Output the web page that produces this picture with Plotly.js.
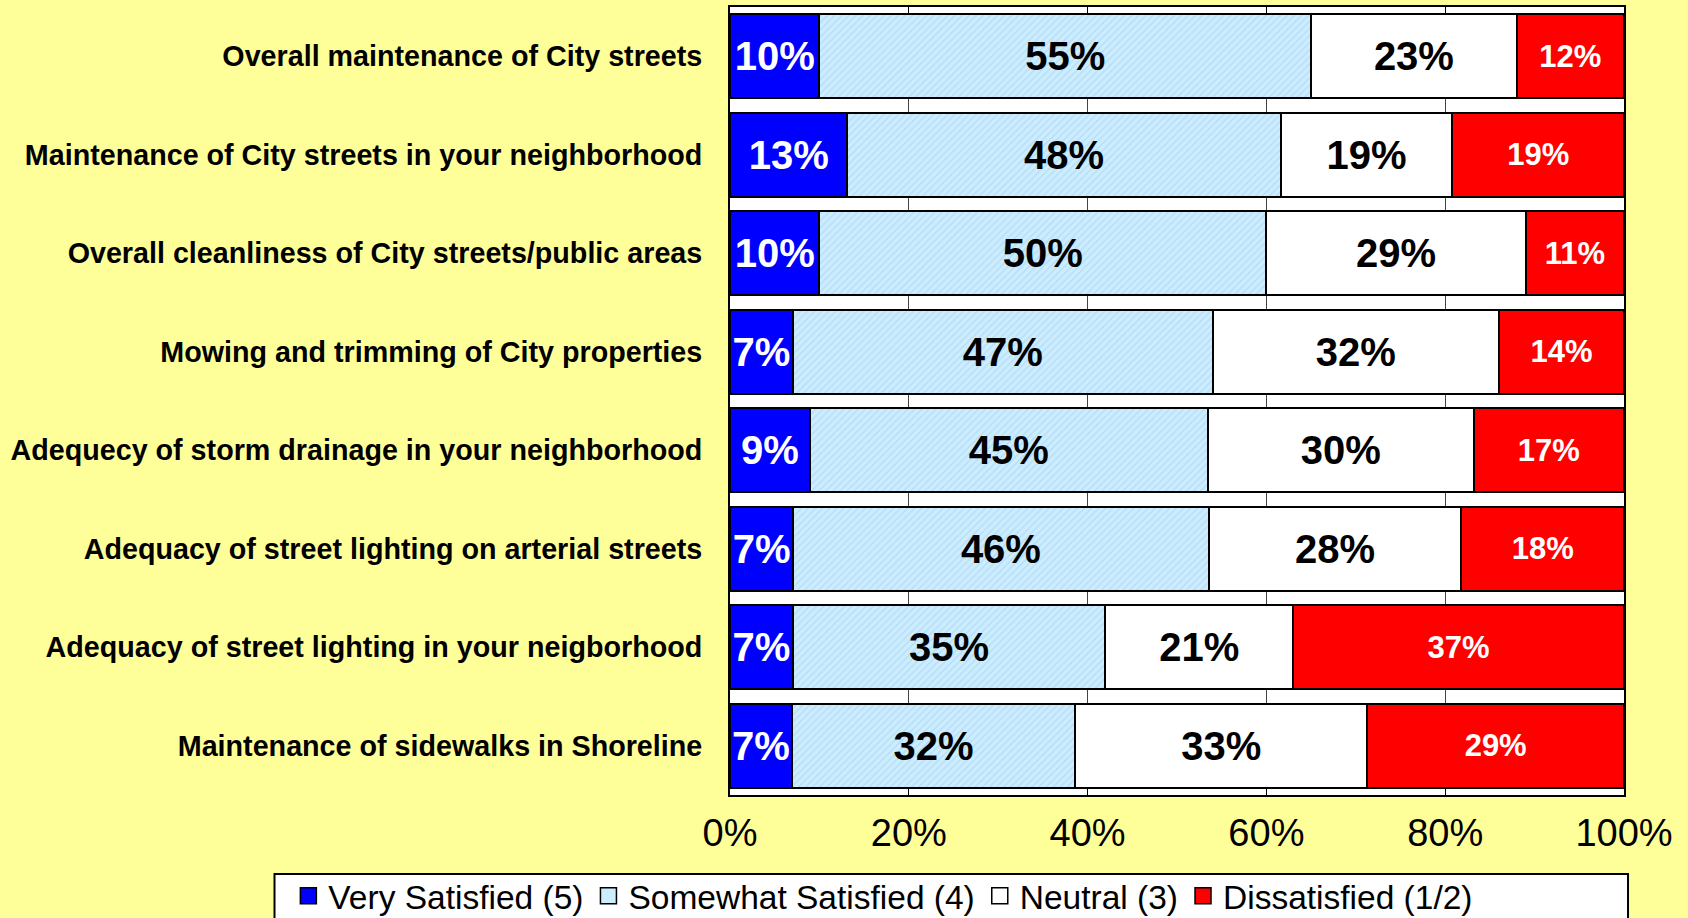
<!DOCTYPE html>
<html>
<head>
<meta charset="utf-8">
<script src="https://cdn.plot.ly/plotly-3.0.1.min.js"></script>
<style>html,body{margin:0;padding:0;background:#FFFF99;}#chart{width:1688px;height:918px;}</style>
</head>
<body>
<div id="chart"></div>
<script>
const categories = [
  "Overall maintenance of City streets",
  "Maintenance of City streets in your neighborhood",
  "Overall cleanliness of City streets/public areas",
  "Mowing and trimming of City properties",
  "Adequecy of storm drainage in your neighborhood",
  "Adequacy of street lighting on arterial streets",
  "Adequacy of street lighting in your neigborhood",
  "Maintenance of sidewalks in Shoreline"
];
const verySatisfied     = [10, 13, 10, 7, 9, 7, 7, 7];
const somewhatSatisfied = [55, 48, 50, 47, 45, 46, 35, 32];
const neutral           = [23, 19, 29, 32, 30, 28, 21, 33];
const dissatisfied      = [12, 19, 11, 14, 17, 18, 37, 29];
const seriesNames = ["Very Satisfied (5)", "Somewhat Satisfied (4)", "Neutral (3)", "Dissatisfied (1/2)"];
const seriesColors = ["#0000FF", "#CCECFF", "#FFFFFF", "#FF0000"];
const tickVals = [0, 20, 40, 60, 80, 100];
const tickText = ["0%", "20%", "40%", "60%", "80%", "100%"];

const FONT = "Liberation Sans, Arial, sans-serif";
function mk(name, vals, color, txtColor, txtSize, pattern) {
  const t = {
    type: "bar", orientation: "h", name: name, showlegend: false,
    y: categories, x: vals,
    text: vals.map(v => v + "%"),
    textposition: "inside", insidetextanchor: "middle", textangle: 0,
    constraintext: "none",
    textfont: {family: FONT, size: txtSize, color: txtColor, weight: "bold"},
    marker: {color: color, line: {color: "#000", width: 2}},
    hoverinfo: "skip"
  };
  if (pattern) t.marker.pattern = pattern;
  return t;
}
const data = [
  mk(seriesNames[0], verySatisfied, seriesColors[0], "#FFFFFF", 40),
  mk(seriesNames[1], somewhatSatisfied, seriesColors[1], "#000000", 40,
     {shape: "/", bgcolor: "#CCECFF", fgcolor: "#B5DDF3", size: 5, solidity: 0.25}),
  mk(seriesNames[2], neutral, seriesColors[2], "#000000", 40),
  mk(seriesNames[3], dissatisfied, seriesColors[3], "#FFFFFF", 31)
];
// legend entries (square swatches)
seriesNames.forEach((n, i) => {
  data.push({
    type: "scatter", mode: "markers", name: n, x: [null], y: [null],
    marker: {symbol: "square", size: 16, color: seriesColors[i], line: {color: "#000", width: 1.5}},
    hoverinfo: "skip", showlegend: true
  });
});
const layout = {
  width: 1688, height: 918,
  paper_bgcolor: "#FFFF99", plot_bgcolor: "#FFFFFF",
  margin: {l: 730, r: 64, t: 7, b: 123, autoexpand: false},
  barmode: "stack", barnorm: "percent", bargap: 0.15,
  font: {family: FONT, color: "#000"},
  showlegend: true,
  legend: {
    orientation: "h", x: -0.494, xanchor: "left", y: -0.092, yanchor: "top",
    bgcolor: "rgba(0,0,0,0)", borderwidth: 0,
    font: {family: FONT, size: 33.5, color: "#000"},
    traceorder: "normal", itemclick: false
  },
  shapes: [{
    type: "rect", xref: "paper", yref: "paper", layer: "below",
    x0: -0.5095, x1: 1.0045, y0: -0.1003, y1: -0.2,
    fillcolor: "#FFFFFF", line: {color: "#000", width: 2}
  }],
  xaxis: {
    range: [0, 100], tickvals: tickVals, ticktext: tickText,
    tickfont: {family: FONT, size: 38, color: "#000"},
    ticks: "inside", ticklen: 8, tickcolor: "#000", tickwidth: 1,
    showline: true, linecolor: "#000", linewidth: 2, mirror: "ticks",
    showgrid: true, gridcolor: "#444", gridwidth: 1, zeroline: false,
    ticklabelstandoff: 3, fixedrange: true
  },
  yaxis: {
    autorange: "reversed", type: "category",
    tickfont: {family: FONT, size: 28.7, color: "#000", weight: "bold"},
    ticks: "", showline: true, linecolor: "#000", linewidth: 2, mirror: true,
    showgrid: false, ticklabelstandoff: 20, fixedrange: true
  }
};
Plotly.newPlot("chart", data, layout, {displayModeBar: false, staticPlot: true});
</script>
</body>
</html>
